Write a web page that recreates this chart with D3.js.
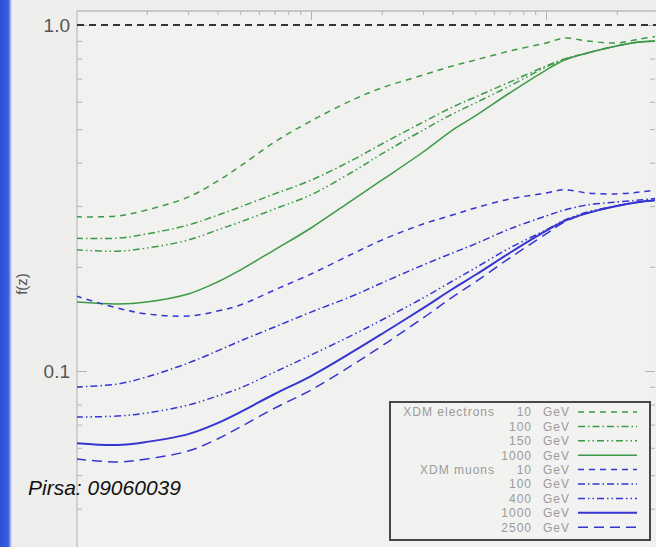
<!DOCTYPE html>
<html>
<head>
<meta charset="utf-8">
<script src="https://cdn.jsdelivr.net/npm/d3@7/dist/d3.min.js"></script>
<style>
  html, body { margin: 0; padding: 0; background: #eeeeec; }
  svg { display: block; }
</style>
</head>
<body>
<svg id="chart" width="656" height="547"></svg>
<script>
// ---------------- data ----------------
const zValues = [1, 1.5, 2, 3, 4, 5, 7, 10, 15, 20, 30, 40, 50, 70, 100, 120, 150, 200, 250, 300];

const electrons10   = [0.279, 0.2805, 0.292, 0.318, 0.354, 0.391, 0.459, 0.528, 0.607, 0.658, 0.717, 0.761, 0.792, 0.841, 0.887, 0.917, 0.899, 0.887, 0.911, 0.929];
const electrons100  = [0.242, 0.242, 0.249, 0.264, 0.282, 0.298, 0.325, 0.356, 0.407, 0.453, 0.524, 0.579, 0.619, 0.684, 0.761, 0.798, 0.830, 0.870, 0.893, 0.899];
const electrons150  = [0.224, 0.222, 0.2267, 0.239, 0.2556, 0.2695, 0.294, 0.323, 0.376, 0.424, 0.497, 0.553, 0.595, 0.666, 0.756, 0.795, 0.830, 0.870, 0.893, 0.899];
const electrons1000 = [0.1583, 0.1562, 0.1583, 0.1669, 0.1808, 0.1958, 0.224, 0.259, 0.312, 0.356, 0.4295, 0.497, 0.546, 0.636, 0.741, 0.792, 0.830, 0.870, 0.893, 0.899];

const muons10   = [0.1647, 0.152, 0.1462, 0.1442, 0.149, 0.1551, 0.1715, 0.1907, 0.218, 0.239, 0.266, 0.2823, 0.296, 0.314, 0.327, 0.334, 0.327, 0.325, 0.329, 0.334];
const muons100  = [0.0899, 0.0917, 0.0961, 0.1054, 0.1143, 0.1221, 0.134, 0.148, 0.1647, 0.1796, 0.2025, 0.2193, 0.233, 0.2573, 0.2805, 0.292, 0.302, 0.308, 0.312, 0.316];
const muons400  = [0.0736, 0.0741, 0.0756, 0.0797, 0.0847, 0.0893, 0.0993, 0.1112, 0.127, 0.1404, 0.1626, 0.182, 0.1985, 0.2267, 0.2556, 0.273, 0.288, 0.300, 0.308, 0.312];
const muons1000 = [0.0619, 0.0611, 0.0624, 0.0657, 0.0707, 0.0761, 0.0858, 0.0967, 0.1135, 0.1279, 0.152, 0.1726, 0.1894, 0.2193, 0.254, 0.2715, 0.286, 0.300, 0.308, 0.312];
const muons2500 = [0.0557, 0.0546, 0.0557, 0.0587, 0.0636, 0.0689, 0.0781, 0.0881, 0.1041, 0.1181, 0.1423, 0.1636, 0.1808, 0.212, 0.249, 0.2695, 0.286, 0.300, 0.308, 0.312];

const seriesNames   = ["10", "100", "150", "1000", "10", "100", "400", "1000", "2500"];
const seriesGroups  = ["XDM electrons", "", "", "", "XDM muons", "", "", "", ""];
const seriesValues  = [electrons10, electrons100, electrons150, electrons1000, muons10, muons100, muons400, muons1000, muons2500];
const seriesKinds   = ["e", "e", "e", "e", "m", "m", "m", "m", "m"];
const yTickLabels   = [{v: 1.0, t: "1.0"}, {v: 0.1, t: "0.1"}];
const yAxisLabel    = "f(z)";
const referenceLine = 1.0;
const watermark     = "Pirsa: 09060039";

(function () {
// ---------------- styles ----------------
const colors = { e: "#3c9a46", m: "#3535d2" };
const dashes = ["6,5", "7,3,1.5,3", "7,3,1.5,3,1.5,3", null, "6,5", "7,3,1.5,3", "7,3,1.5,3,1.5,3", null, "10,6"];

// ---------------- layout ----------------
const svg = d3.select("#chart");
const W = 656, H = 547;
const pL = 77, pT = 11, pR = 655, pB = 547;

const x = d3.scaleLog().domain([1, 100]).range([76, 546]);
const y = d3.scaleLog().domain([0.1, 1]).range([371, 25]);

const defs = svg.append("defs");

// background
svg.append("rect").attr("width", W).attr("height", H).attr("fill", "#eeeeec");
svg.append("rect").attr("x", pL).attr("y", pT).attr("width", pR - pL).attr("height", pB - pT).attr("fill", "#f1f1ef");

// blue edge bar
const grad = defs.append("linearGradient").attr("id", "edge").attr("x1", 0).attr("x2", 1);
grad.append("stop").attr("offset", "0%").attr("stop-color", "#2b4fd3");
grad.append("stop").attr("offset", "70%").attr("stop-color", "#3a5ee0");
grad.append("stop").attr("offset", "100%").attr("stop-color", "#eeeeec");
svg.append("rect").attr("x", 0).attr("y", 0).attr("width", 12).attr("height", H).attr("fill", "url(#edge)");

defs.append("clipPath").attr("id", "plotclip")
  .append("rect").attr("x", pL).attr("y", pT).attr("width", pR - pL).attr("height", pB - pT);

// minor tick values
const xMinor = [], xMajor = [10, 100];
[1, 10, 100].forEach(d => { for (let k = 2; k <= 9; k++) xMinor.push(d * k); });
const yMinor = [], yMajor = [0.1, 1];
[0.01, 0.1, 1].forEach(d => { for (let k = 2; k <= 9; k++) yMinor.push(d * k); });

const tickStyle = g => { g.select(".domain").remove(); g.selectAll("line").attr("stroke", "#b0b0b0").attr("stroke-width", 1); g.selectAll("text").remove(); };

// top axis
svg.append("g").attr("transform", `translate(0,${pT})`)
  .call(d3.axisBottom(x).tickValues(xMinor.filter(v => x(v) < pR)).tickSize(4).tickFormat(""))
  .call(tickStyle);
svg.append("g").attr("transform", `translate(0,${pT})`)
  .call(d3.axisBottom(x).tickValues(xMajor).tickSize(9).tickFormat(""))
  .call(tickStyle);
svg.append("line").attr("x1", pL).attr("x2", W).attr("y1", pT).attr("y2", pT).attr("stroke", "#b8b8b8").attr("stroke-width", 1.5);

// left axis
const yVisible = v => y(v) > pT && y(v) < pB;
svg.append("g").attr("transform", `translate(${pL},0)`)
  .call(d3.axisRight(y).tickValues(yMinor.filter(yVisible)).tickSize(5).tickFormat(""))
  .call(tickStyle);
svg.append("g").attr("transform", `translate(${pL},0)`)
  .call(d3.axisRight(y).tickValues(yMajor).tickSize(10).tickFormat(""))
  .call(tickStyle);
svg.append("line").attr("x1", pL).attr("x2", pL).attr("y1", pT).attr("y2", pB).attr("stroke", "#c4c4c4").attr("stroke-width", 1.5);

// right axis
svg.append("g").attr("transform", `translate(${pR},0)`)
  .call(d3.axisLeft(y).tickValues(yMinor.filter(yVisible)).tickSize(5).tickFormat(""))
  .call(tickStyle);
svg.append("g").attr("transform", `translate(${pR},0)`)
  .call(d3.axisLeft(y).tickValues(yMajor).tickSize(10).tickFormat(""))
  .call(tickStyle);

// y tick labels
svg.selectAll(".ylab").data(yTickLabels).enter().append("text")
  .attr("x", 70).attr("y", d => y(d.v)).attr("dy", "0.36em")
  .attr("text-anchor", "end")
  .attr("font-family", "Liberation Sans, Arial, sans-serif")
  .attr("font-size", 19).attr("fill", "#555")
  .text(d => d.t);

// y axis title
svg.append("text")
  .attr("transform", "translate(27,284) rotate(-90)")
  .attr("text-anchor", "middle")
  .attr("font-family", "Liberation Sans, Arial, sans-serif")
  .attr("font-size", 15).attr("fill", "#555")
  .text(yAxisLabel);

// reference line at 1.0
svg.append("line")
  .attr("x1", pL).attr("x2", W).attr("y1", y(referenceLine)).attr("y2", y(referenceLine))
  .attr("stroke", "#333").attr("stroke-width", 2.2).attr("stroke-dasharray", "7,5");

// curves
const plot = svg.append("g").attr("clip-path", "url(#plotclip)");
const line = d3.line().x(d => x(d[0])).y(d => y(d[1])).curve(d3.curveCatmullRom.alpha(0.5));
seriesValues.forEach((vals, i) => {
  const pts = zValues.map((z, j) => [z, vals[j]]);
  plot.append("path").datum(pts)
    .attr("d", line)
    .attr("fill", "none")
    .attr("stroke", colors[seriesKinds[i]])
    .attr("stroke-width", seriesKinds[i] === "m" && dashes[i] === null ? 2 : 1.5)
    .attr("stroke-dasharray", dashes[i]);
});

// legend
const lg = svg.append("g");
lg.append("rect").attr("x", 390).attr("y", 402).attr("width", 260).attr("height", 138)
  .attr("fill", "#f2f2f0").attr("stroke", "#474747").attr("stroke-width", 2);
const rowY = i => 412 + i * 14.4;
const legendFont = "Liberation Sans, Arial, sans-serif";
seriesNames.forEach((name, i) => {
  const ry = rowY(i);
  if (seriesGroups[i]) {
    lg.append("text").attr("x", 495).attr("y", ry).attr("dy", "0.36em").attr("text-anchor", "end")
      .attr("font-family", legendFont).attr("font-size", 12).attr("letter-spacing", "1px")
      .attr("fill", "#9a9a9a").text(seriesGroups[i]);
  }
  lg.append("text").attr("x", 532).attr("y", ry).attr("dy", "0.36em").attr("text-anchor", "end")
    .attr("font-family", legendFont).attr("font-size", 12).attr("letter-spacing", "1px")
    .attr("fill", "#9a9a9a").text(name);
  lg.append("text").attr("x", 543).attr("y", ry).attr("dy", "0.36em")
    .attr("font-family", legendFont).attr("font-size", 12).attr("letter-spacing", "1px")
    .attr("fill", "#9a9a9a").text("GeV");
  lg.append("line").attr("x1", 578).attr("x2", 637).attr("y1", ry).attr("y2", ry)
    .attr("stroke", colors[seriesKinds[i]])
    .attr("stroke-width", seriesKinds[i] === "m" && dashes[i] === null ? 2 : 1.5)
    .attr("stroke-dasharray", dashes[i]);
});

// watermark
svg.append("text").attr("x", 28).attr("y", 495)
  .attr("font-family", "Liberation Sans, Arial, sans-serif")
  .attr("font-style", "italic").attr("font-size", 21).attr("fill", "#111")
  .text(watermark);
})();
</script>
</body>
</html>
